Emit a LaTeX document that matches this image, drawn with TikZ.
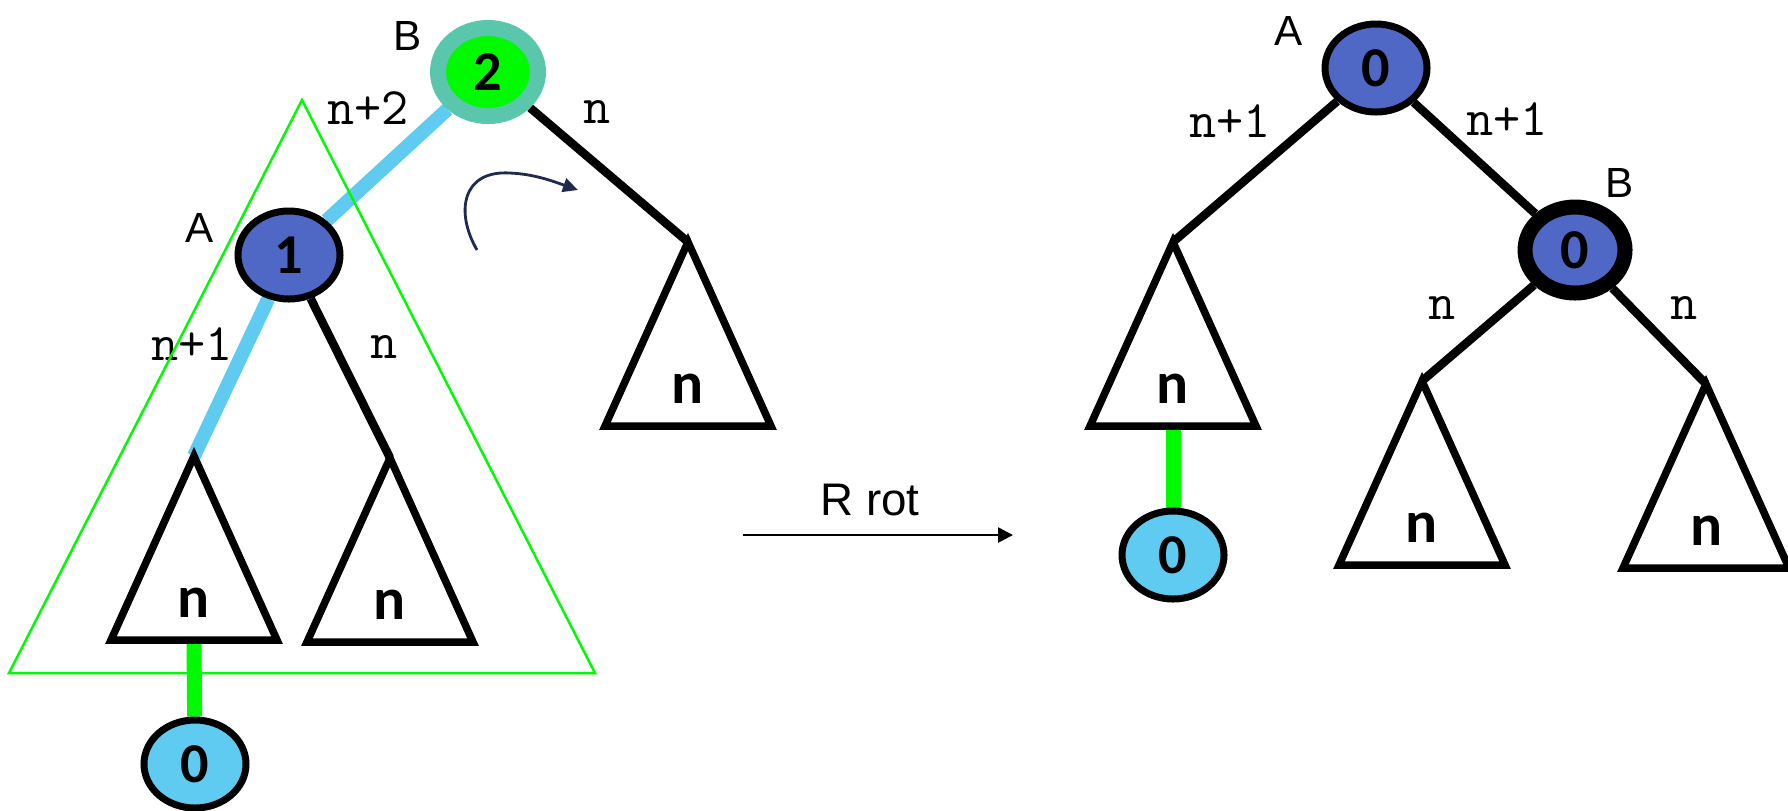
\documentclass[tikz,border=0pt]{standalone}
\usepackage{fontspec}
\setmainfont{Liberation Sans}
\newfontfamily\calfont{Carlito}
\usetikzlibrary{arrows.meta,shapes.geometric,backgrounds}
\definecolor{nodeblue}{RGB}{79,104,198}
\definecolor{leafcyan}{RGB}{95,203,241}
\definecolor{hotgreen}{RGB}{0,250,0}
\definecolor{ringteal}{RGB}{90,198,172}
\definecolor{swirlnavy}{RGB}{32,42,78}
\tikzset{
  node-b/.style={draw,ellipse,fill=nodeblue,line width=0.07cm,minimum width=1.02cm,minimum height=0.88cm,inner sep=0pt,font=\calfont\bfseries\fontsize{16}{17}\selectfont},
  node-c/.style={node-b,fill=leafcyan},
  node-r/.style={node-b,draw=ringteal,fill=hotgreen,line width=0.16cm,minimum width=1.0cm,minimum height=0.88cm},
  node-h/.style={node-b,line width=0.15cm,minimum width=1.0cm,minimum height=0.86cm},
  edge/.style={line width=0.085cm,black},
  hot/.style={line width=0.14cm,leafcyan},
  leaf/.style={line width=0.15cm,hotgreen},
  subtri/.style={draw,line width=0.075cm,fill=white},
  subn/.style={font=\calfont\bfseries\fontsize{17}{18}\selectfont,inner sep=0pt},
  lbl/.style={font=\ttfamily\fontsize{15}{16}\selectfont,inner sep=0pt},
  tag/.style={font=\fontsize{12}{13}\selectfont,inner sep=0pt},
  rot/.style={-{Triangle[length=1.5mm,width=1.5mm]},line width=0.7pt},
  swirl/.style={-{Triangle[length=1.5mm,width=1.4mm]},line width=0.8pt,swirlnavy},
  scopetri/.style={draw,hotgreen,line width=0.7pt},
  sub/.pic={
    \coordinate (-apex) at (0,0);
    \coordinate (-base) at (0,-1.84);
    \draw[subtri] (0,0) -- (-0.83,-1.84) -- (0.83,-1.84) -- cycle;
    \node[subn] (-n) at (0,-1.47) {n};
  },
}

\begin{document}
\begin{tikzpicture}[x=1cm,y=1cm]
  \useasboundingbox (0,0) rectangle (17.88,-8.10);

  % left: before rotation
  \node[node-r] (B)     at (4.88,-0.72)  {2};
  \node[node-b] (A)     at (2.89,-2.55)  {1};
  \node[node-c] (zeroL) at (1.95,-7.64)  {0};
  \pic (tBr) at (6.88,-2.42) {sub};
  \pic (tL1) at (1.94,-4.56) {sub};
  \pic (tL2) at (3.90,-4.58) {sub};

  \node[tag] (labB)  at (4.08,-0.36) {B};
  \node[tag] (labA)  at (2.00,-2.28) {A};
  \node[lbl] (ln2)   at (3.68,-1.08) {n+2};
  \node[lbl] (lnB)   at (5.97,-1.12) {n};
  \node[lbl] (ln1)   at (1.92,-3.44) {n+1};
  \node[lbl] (lnA)   at (3.84,-3.47) {n};

  \draw[scopetri] (3.02,-1.00) -- (0.09,-6.73) -- (5.95,-6.73) -- cycle;

  \coordinate (swA) at (4.77,-2.50);
  \coordinate (swB) at (5.10,-1.73);
  \coordinate (swC) at (5.78,-1.90);
  \draw[swirl] (swA) .. controls (4.55,-2.12) and (4.62,-1.70) .. (swB)
                     .. controls (5.35,-1.74) and (5.55,-1.82) .. (swC);

  % rotation arrow
  \coordinate (rotA) at (7.43,-5.35);
  \coordinate (rotB) at (10.13,-5.35);
  \draw[rot] (rotA) -- (rotB);
  \node[font=\fontsize{13}{14}\selectfont] (rotlbl) at (8.70,-5.00) {R rot};

  % right: after rotation
  \node[node-b] (A2)    at (13.76,-0.68) {0};
  \node[node-h] (B2)    at (15.75,-2.50) {0};
  \node[node-c] (zeroR) at (11.73,-5.55) {0};
  \pic (tR1) at (11.73,-2.42) {sub};
  \pic (tR2) at (14.22,-3.81) {sub};
  \pic (tR3) at (17.06,-3.84) {sub};

  \node[tag] (labA2) at (12.89,-0.31) {A};
  \node[tag] (labB2) at (16.20,-1.83) {B};
  \node[lbl] (rn1a)  at (12.30,-1.21) {n+1};
  \node[lbl] (rn1b)  at (15.07,-1.19) {n+1};
  \node[lbl] (rnl)   at (14.42,-3.08) {n};
  \node[lbl] (rnr)   at (16.84,-3.08) {n};

  \begin{pgfonlayer}{background}
    \draw[hot]  (B)  -- (A);
    \draw[edge] (B)  -- (tBr-apex);
    \draw[hot]  (A)  -- (tL1-apex);
    \draw[edge] (A)  -- (tL2-apex);
    \draw[leaf] (tL1-base) -- (zeroL);
    \draw[edge] (A2) -- (tR1-apex);
    \draw[edge] (A2) -- (B2);
    \draw[edge] (B2) -- (tR2-apex);
    \draw[edge] (B2) -- (tR3-apex);
    \draw[leaf] (tR1-base) -- (zeroR);
  \end{pgfonlayer}

\end{tikzpicture}
\end{document}
